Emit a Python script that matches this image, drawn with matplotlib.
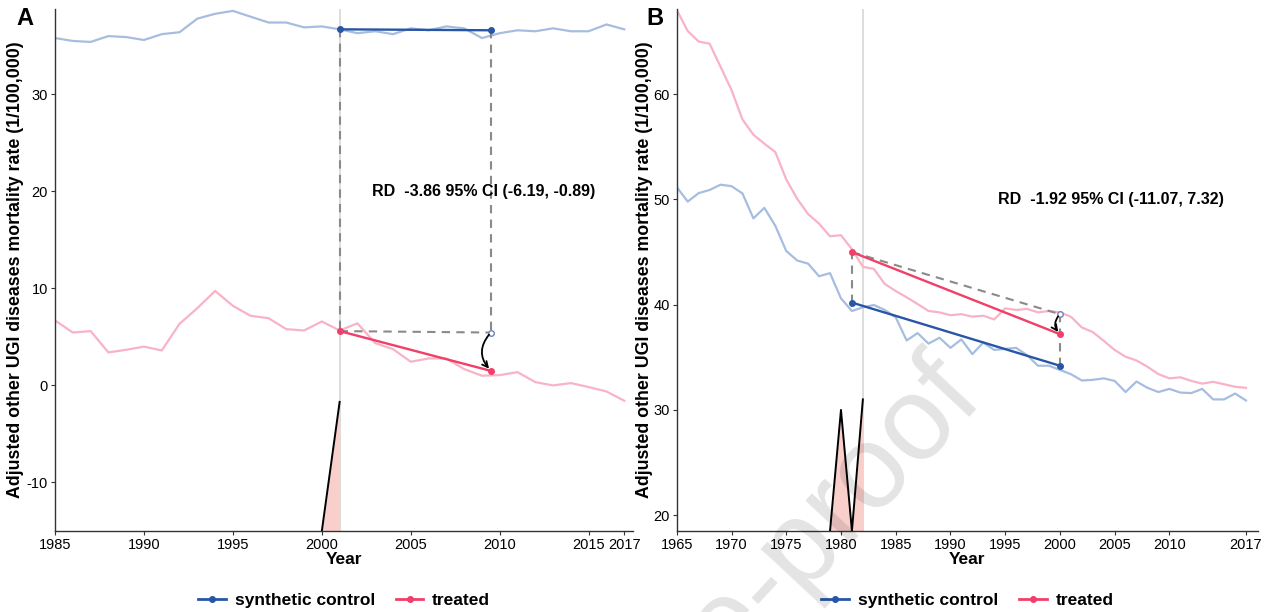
import matplotlib
matplotlib.use("Agg")
import matplotlib.pyplot as plt
from matplotlib.lines import Line2D
from matplotlib.patches import FancyArrowPatch

plt.rcParams['font.family'] = ['Liberation Sans', 'DejaVu Sans']
plt.rcParams['axes.unicode_minus'] = False

# panel A: 1985-2017
years_a = list(range(1985, 2018))
control_a = [35.8, 35.5, 35.4, 36.0, 35.9, 35.6, 36.2, 36.4, 37.8, 38.3, 38.6, 38.0, 37.4,
             37.4, 36.9, 37.0, 36.7, 36.3, 36.5, 36.2, 36.8, 36.6, 37.0, 36.8, 35.8, 36.3,
             36.6, 36.5, 36.8, 36.5, 36.5, 37.2, 36.7]
treated_a = [6.7, 5.45, 5.6, 3.4, 3.67, 4.0, 3.6, 6.35, 7.96, 9.74, 8.2, 7.17, 6.93, 5.8,
             5.66, 6.59, 5.66, 6.4, 4.36, 3.74, 2.44, 2.78, 2.78, 1.68, 1.0, 1.06, 1.37,
             0.34, 0.0, 0.24, -0.17, -0.62, -1.58]
seg_x_a = [2001, 2009.5]
seg_control_a = [36.7, 36.6]
seg_treated_a = [5.6, 1.5]
counterfactual_a = 5.45
area_x_a = [2000, 2001]
area_y_a = [-15, -1.7]
rd_a = "RD  -3.86 95% CI (-6.19, -0.89)"

# panel B: 1965-2017
years_b = list(range(1965, 2018))
control_b = [51.17, 49.8, 50.6, 50.9, 51.4, 51.26, 50.57, 48.2, 49.2, 47.5, 45.1, 44.2, 43.9,
             42.7, 43.0, 40.6, 39.4, 39.75, 39.97, 39.5, 38.8, 36.6, 37.3, 36.3, 36.86, 35.9,
             36.7, 35.3, 36.4, 35.7, 35.8, 35.9, 35.2, 34.2, 34.2, 33.8, 33.4, 32.8, 32.86,
             33.0, 32.76, 31.7, 32.7, 32.1, 31.7, 32.0, 31.65, 31.6, 32.0, 31.0, 31.0, 31.56,
             30.9]
treated_b = [68.0, 66.0, 65.0, 64.8, 62.6, 60.4, 57.6, 56.15, 55.3, 54.5, 51.9, 50.06, 48.6,
             47.7, 46.5, 46.6, 45.27, 43.6, 43.4, 41.97, 41.3, 40.7, 40.06, 39.4, 39.27, 39.0,
             39.1, 38.86, 38.95, 38.6, 39.65, 39.5, 39.6, 39.27, 39.4, 39.27, 38.86, 37.84,
             37.4, 36.57, 35.7, 35.05, 34.7, 34.1, 33.4, 33.0, 33.1, 32.76, 32.5, 32.67, 32.44,
             32.2, 32.1]
seg_x_b = [1981, 2000]
seg_control_b = [40.2, 34.2]
seg_treated_b = [45.0, 37.2]
counterfactual_b = 39.1
area_x_b = [1979, 1980, 1981, 1982]
area_y_b = [18.5, 30.0, 18.5, 31.0]
rd_b = "RD  -1.92 95% CI (-11.07, 7.32)"

light_blue = "#a7bde0"
light_pink = "#f8b3c6"
dark_blue = "#2856a6"
red = "#f03f69"
fill_pink = "#f9cfcc"
gray_dash = "#8a8a8a"


def draw_panel(ax, years, control, treated, seg_x, seg_c, seg_t, cf, area_x, area_y,
               vline, xlim, ylim, xticks, yticks, rd, rd_pos, letter, ylab_x, letter_x):
    ax.plot(years, control, color=light_blue, lw=1.6, zorder=2)
    ax.plot(years, treated, color=light_pink, lw=1.6, zorder=2)
    ax.axvline(vline, color="#dddddd", lw=1.4, zorder=1)
    ax.fill_between(area_x, ylim[0], area_y, color=fill_pink, lw=0, zorder=1)
    ax.plot(area_x, area_y, color="black", lw=1.4, zorder=3)

    # dashed guides: start and end verticals, counterfactual path
    ax.plot([seg_x[0], seg_x[0]], [seg_c[0], seg_t[0]], ls=(0, (4, 3)), color=gray_dash, lw=1.5, zorder=3)
    ax.plot([seg_x[1], seg_x[1]], [seg_c[1], cf], ls=(0, (4, 3)), color=gray_dash, lw=1.5, zorder=3)
    ax.plot([seg_x[0], seg_x[1]], [seg_t[0], cf], ls=(0, (4, 3)), color=gray_dash, lw=1.5, zorder=3)

    ax.plot(seg_x, seg_c, color=dark_blue, lw=1.7, marker="o", ms=4, zorder=4)
    ax.plot(seg_x, seg_t, color=red, lw=1.7, marker="o", ms=4, zorder=4)
    ax.plot([seg_x[1]], [cf], marker="o", ms=4, mfc="white", mec="#6a85b8", mew=1, zorder=5)

    arrow = FancyArrowPatch((seg_x[1], cf), (seg_x[1], seg_t[1]),
                            connectionstyle="arc3,rad=0.45", arrowstyle="->",
                            mutation_scale=10, color="black", lw=1.3, zorder=5)
    ax.add_patch(arrow)

    ax.text(rd_pos[0], rd_pos[1], rd, ha="center", va="center",
            fontsize=11.5, fontweight="bold")

    ax.set_xlim(*xlim)
    ax.set_ylim(*ylim)
    ax.set_xticks(xticks)
    ax.set_yticks(yticks)
    ax.tick_params(labelsize=10.5, length=3, color="#333333", pad=2)
    for s in ["top", "right"]:
        ax.spines[s].set_visible(False)
    for s in ["left", "bottom"]:
        ax.spines[s].set_color("#333333")
        ax.spines[s].set_linewidth(1.0)
    ax.set_xlabel("Year", fontsize=12.5, fontweight="bold", labelpad=0)
    ax.set_ylabel("Adjusted other UGI diseases mortality rate (1/100,000)",
                  fontsize=12.8, fontweight="bold")
    ax.yaxis.set_label_coords(ylab_x, 0.5)
    ax.text(letter_x, 0.981, letter, transform=ax.transAxes, fontsize=17,
            fontweight="bold", ha="center", va="center")

    handles = [Line2D([], [], color=dark_blue, lw=2, marker="o", ms=4),
               Line2D([], [], color=red, lw=2, marker="o", ms=4)]
    ax.legend(handles, ["synthetic control", "treated"], loc="center",
              bbox_to_anchor=(0.5, -0.133), ncol=2, frameon=False,
              prop={"weight": "bold", "size": 12.5}, handlelength=1.6,
              columnspacing=1.2, handletextpad=0.5)


fig = plt.figure(figsize=(12.65, 6.12), dpi=100)
ax_a = fig.add_axes([0.0435, 0.1324, 0.457, 0.853])
ax_b = fig.add_axes([0.535, 0.1324, 0.4595, 0.853])

draw_panel(ax_a, years_a, control_a, treated_a, seg_x_a, seg_control_a, seg_treated_a,
           counterfactual_a, area_x_a, area_y_a, 2001, (1985, 2017.5), (-15, 38.8),
           [1985, 1990, 1995, 2000, 2005, 2010, 2015, 2017], [-10, 0, 10, 20, 30],
           rd_a, (2009.1, 20), "A", -0.054, -0.052)
draw_panel(ax_b, years_b, control_b, treated_b, seg_x_b, seg_control_b, seg_treated_b,
           counterfactual_b, area_x_b, area_y_b, 1982, (1965, 2018.1), (18.5, 68.1),
           [1965, 1970, 1975, 1980, 1985, 1990, 1995, 2000, 2005, 2010, 2017],
           [20, 30, 40, 50, 60], rd_b, (2004.7, 50), "B", -0.041, -0.038)

# pre-proof watermark across the lower part of panel B
fig.text(985 / 1265, 1 - 400 / 612, "Journal Pre-proof", fontsize=85, color="black",
         alpha=0.11, rotation=47, rotation_mode="anchor", ha="right", va="baseline",
         zorder=10)

fig.savefig("out.png", dpi=100)
